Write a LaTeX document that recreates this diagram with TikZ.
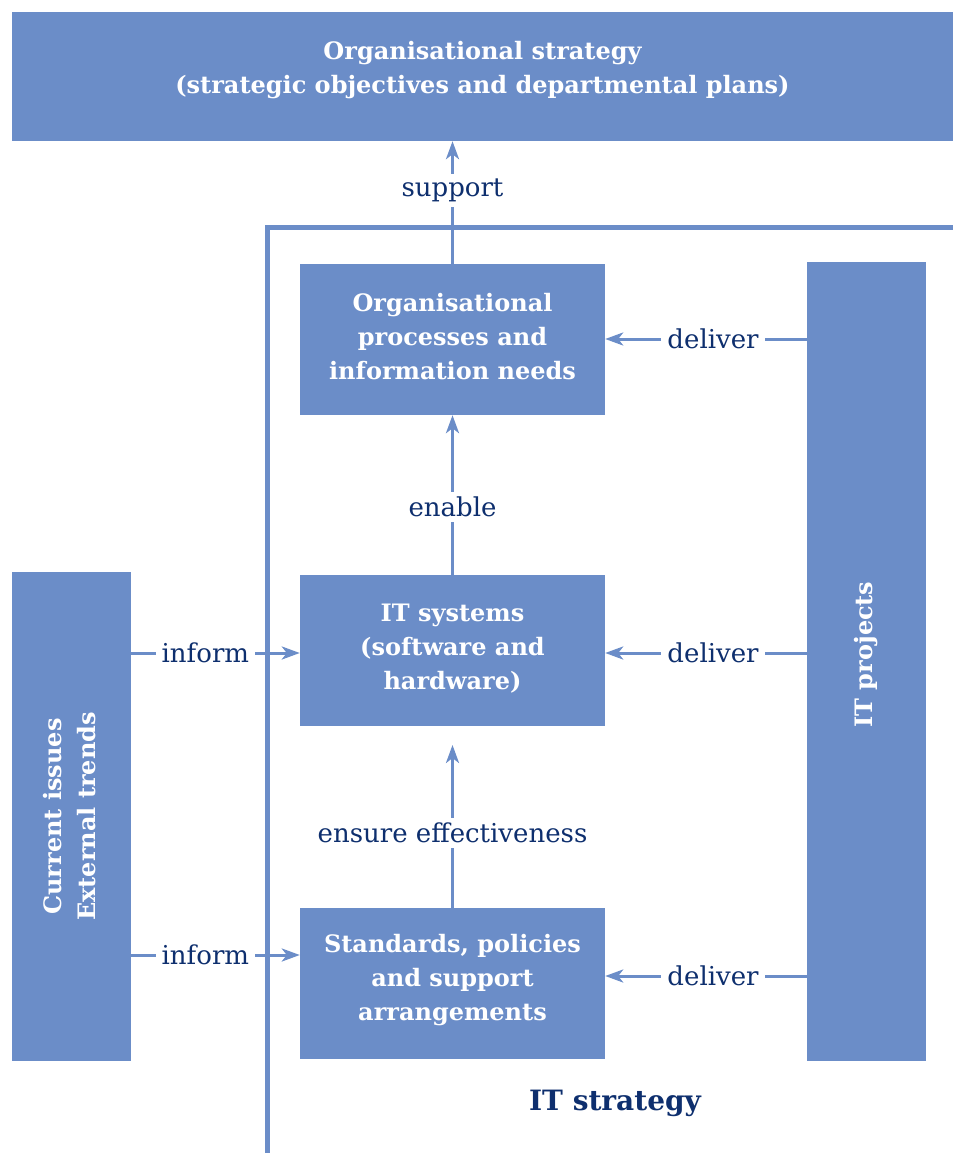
\documentclass[tikz,border=0pt]{standalone}
\usepackage{fontspec}
\setmainfont{DejaVu Serif}
\usetikzlibrary{arrows.meta,calc}
\definecolor{boxblue}{HTML}{6B8DC8}
\definecolor{navy}{HTML}{0E2F6E}
\tikzset{
  bluebox/.style={fill=boxblue, draw=none, inner sep=0pt, text=white, align=center,
    font=\fontsize{24}{34}\selectfont\bfseries},
  boxtext/.style={inner sep=0pt, text=white, align=center,
    font=\fontsize{24}{34}\selectfont\bfseries},
  conn/.style={draw=boxblue, line width=3pt, -{Stealth[length=18pt,width=13pt,inset=5pt]}},
  lbl/.style={fill=white, text=navy, inner xsep=6pt, inner ysep=5pt,
    font=\fontsize{26}{30}\selectfont},
  frame/.style={draw=boxblue, line width=5pt}
}
\begin{document}
\begin{tikzpicture}[x=1pt,y=-1pt]
\useasboundingbox (0,0) rectangle (953,1153);
% nodes
\node[bluebox, minimum width=941pt, minimum height=129pt] (top) at (482.5,76.5) {};
\node[boxtext] (topt) at ($(top.center)+(0,-6)$)
  {Organisational strategy\\(strategic objectives and departmental plans)};
\node[bluebox, minimum width=305pt, minimum height=151pt] (op) at (452.5,339.5) {};
\node[boxtext] (opt) at ($(op.center)+(0,-3)$) {Organisational\\processes and\\information needs};
\node[bluebox, minimum width=305pt, minimum height=151pt] (its) at (452.5,650.5) {};
\node[boxtext] (itst) at ($(its.center)+(0,-2)$) {IT systems\\(software and\\hardware)};
\node[bluebox, minimum width=305pt, minimum height=151pt] (sp) at (452.5,983.5) {};
\node[boxtext] (spt) at ($(sp.center)+(0,-3)$) {Standards, policies\\and support\\arrangements};
\node[bluebox, minimum width=119pt, minimum height=799pt] (pj) at (866.5,661.5) {};
\node[boxtext, rotate=90] (pjt) at ($(pj.center)+(0,-7)$) {IT projects};
\node[bluebox, minimum width=119pt, minimum height=489pt] (ci) at (71.5,816.5) {};
\node[boxtext, rotate=90] (cit) at ($(ci.center)+(-2,0)$) {Current issues\\External trends};
% IT strategy frame
\coordinate (fb) at (267,1153);
\coordinate (fc) at (267,227);
\coordinate (fr) at (953,227);
\draw[frame] (fb) -- (fc) -- (fr);
\node[text=navy, font=\fontsize{28}{30}\selectfont\bfseries] (its-lbl) at (615,1103) {IT strategy};
% connectors
\draw[conn] (op.north) -- node[lbl, pos=0.6] {support} (top.south -| op.north);
\draw[conn] (its.north) -- node[lbl, pos=0.425] {enable} (op.south);
\coordinate (ee) at (452.5,745);
\draw[conn] (sp.north) -- node[lbl, pos=0.46] {ensure effectiveness} (ee);
\draw[conn] (pj.west |- 0,339) -- node[lbl, pos=0.465] {deliver} (op.east |- 0,339);
\draw[conn] (pj.west |- 0,653) -- node[lbl, pos=0.465] {deliver} (its.east |- 0,653);
\draw[conn] (pj.west |- 0,976) -- node[lbl, pos=0.465] {deliver} (sp.east |- 0,976);
\draw[conn] (ci.east |- 0,653) -- node[lbl, pos=0.44] {inform} (its.west |- 0,653);
\draw[conn] (ci.east |- 0,955) -- node[lbl, pos=0.44] {inform} (sp.west |- 0,955);
\end{tikzpicture}
\end{document}
